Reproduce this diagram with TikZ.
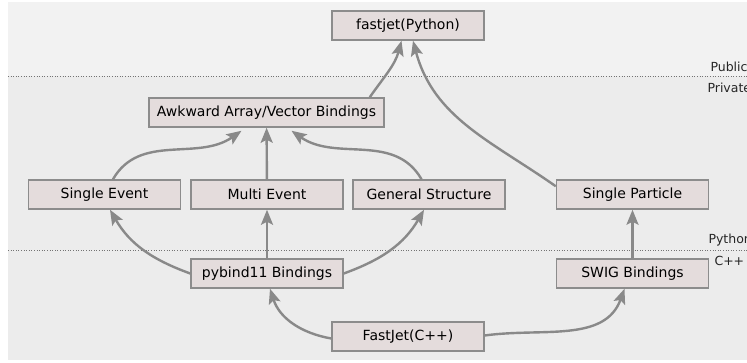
\documentclass[tikz,border=0pt]{standalone}
\usepackage{fontspec}
\setmainfont{DejaVu Sans}
\usepackage{xcolor}
\usetikzlibrary{arrows.meta, positioning, calc}
\definecolor{boxfill}{HTML}{E4DCDC}
\definecolor{boxline}{HTML}{8C8C8C}
\definecolor{arrowgray}{HTML}{898989}
\definecolor{publicbg}{HTML}{F2F2F2}
\definecolor{privatebg}{HTML}{ECECEC}
\tikzset{
	layer/.style={rectangle, draw=boxline, fill=boxfill, line width=1.5pt, minimum width=152pt, minimum height=29pt, inner sep=0pt, align=center, font=\fontsize{14}{16}\selectfont},
	link/.style={draw=arrowgray, line width=2.4pt, -{Stealth[length=15pt, width=12pt, inset=3pt]}},
	tier/.style={anchor=west, text=black!85, font=\fontsize{12.5}{14}\selectfont}
}

\begin{document}
\begin{tikzpicture}[
	x=1pt, y=1pt,
	divider/.style={draw=black!55, line width=0.8pt, dash pattern=on 1pt off 1.6pt}
	]
	
	% Background bands
	\useasboundingbox (0,0) rectangle (747,362);
	\fill[privatebg] (8,2) rectangle (747,285.5);
	\fill[publicbg] (8,285.5) rectangle (747,360);
	
	% Dividers and tier labels
	\coordinate (public_left) at (8,285.5);
	\coordinate (public_right) at (747,285.5);
	\coordinate (python_left) at (8,112);
	\coordinate (python_right) at (747,112);
	\draw[divider] (public_left) -- (public_right);
	\draw[divider] (python_left) -- (python_right);
	\node[tier] (public_label) at (707,295) {Public};
	\node[tier] (private_label) at (704,274) {Private};
	\node[tier] (python_label) at (705,122) {Python};
	\node[tier] (cpp_label) at (711,101) {C++};
	
	% Main boxes
	\node[layer] (fastjet_python) at (408,336.5) {fastjet(Python)};
	\node[layer, minimum width=235pt] (awkward_bindings) at (266.5,249.5) {Awkward Array/Vector Bindings};
	\node[layer] (single_event) at (104.5,167.5) {Single Event};
	\node[layer] (multi_event) at (267,167.5) {Multi Event};
	\node[layer] (general_structure) at (429,167.5) {General Structure};
	\node[layer] (single_particle) at (632.5,167.5) {Single Particle};
	\node[layer] (pybind_bindings) at (267,88.5) {pybind11 Bindings};
	\node[layer] (swig_bindings) at (632.5,88.5) {SWIG Bindings};
	\node[layer] (fastjet_cpp) at (408,25.5) {FastJet(C++)};
	
	% Python side into the public module
	\draw[link] ($(awkward_bindings.north east)+(-15,0)$) to[out=55, in=-105] ($(fastjet_python.south)+(-6.5,0)$);
	\draw[link] ($(single_particle.north west)+(0,-7)$) to[out=145, in=-75] ($(fastjet_python.south)+(5,0)$);
	
	% event structures into the awkward bindings
	\draw[link] ($(single_event.north)+(8.5,0)$) to[out=60, in=-145] ($(awkward_bindings.south)+(-25,-3)$);
	\draw[link] (multi_event) -- (awkward_bindings);
	\draw[link] ($(general_structure.north)+(-7.5,0)$) to[out=120, in=-35] ($(awkward_bindings.south)+(25,-3)$);
	
	% pybind11 branches
	\draw[link] (pybind_bindings.west) to[out=160, in=-60] ($(single_event.south)+(5.5,0)$);
	\draw[link] (pybind_bindings) -- (multi_event);
	\draw[link] (pybind_bindings.east) to[out=20, in=-120] ($(general_structure.south)+(-5,0)$);
	\draw[link] (swig_bindings) -- (single_particle);
	
	% C++ library into both binding layers
	\draw[link] ($(fastjet_cpp.west)+(0,-2)$) to[out=170, in=-72] ($(pybind_bindings.south)+(3,0)$);
	\draw[link] ($(fastjet_cpp.east)+(0,1)$) to[out=8, in=-110] ($(swig_bindings.south)+(-8,0)$);
	
\end{tikzpicture}
\end{document}
